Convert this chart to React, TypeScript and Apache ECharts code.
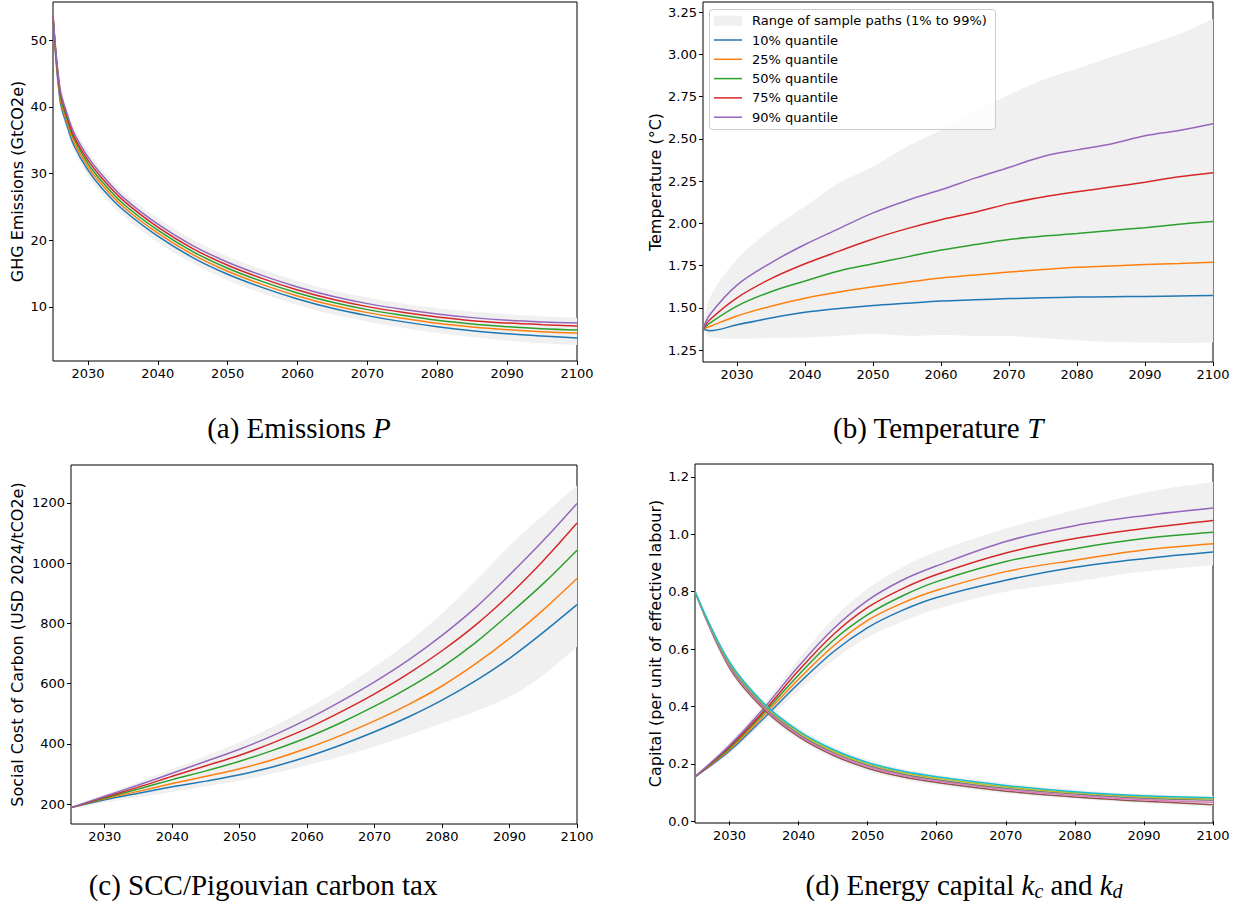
import React, { useEffect, useRef } from "react";
import * as echarts from "echarts";

// ---------- Panel (a): GHG emissions ----------
const yearsA = [2025, 2026, 2027, 2028, 2030, 2032, 2035, 2040, 2045, 2050, 2055, 2060, 2065, 2070, 2075, 2080, 2085, 2090, 2095, 2100];
const emisQ10 = [53.5, 41.0, 37.2, 34.2, 30.5, 27.8, 24.6, 20.6, 17.4, 14.9, 12.9, 11.2, 9.8, 8.7, 7.8, 7.05, 6.45, 6.0, 5.65, 5.35];
const emisQ25 = [53.6, 41.5, 37.7, 34.7, 31.0, 28.3, 25.05, 21.05, 17.85, 15.35, 13.35, 11.65, 10.25, 9.15, 8.3, 7.55, 7.0, 6.6, 6.3, 6.1];
const emisQ50 = [53.7, 42.0, 38.2, 35.2, 31.5, 28.8, 25.5, 21.5, 18.3, 15.8, 13.8, 12.1, 10.7, 9.6, 8.75, 8.0, 7.45, 7.05, 6.75, 6.55];
const emisQ75 = [53.7, 42.4, 38.6, 35.6, 32.0, 29.3, 26.0, 21.95, 18.75, 16.25, 14.25, 12.55, 11.15, 10.05, 9.2, 8.5, 7.95, 7.6, 7.35, 7.15];
const emisQ90 = [53.8, 42.8, 39.0, 36.1, 32.5, 29.8, 26.45, 22.4, 19.2, 16.7, 14.7, 13.0, 11.6, 10.5, 9.65, 8.95, 8.4, 8.0, 7.75, 7.6];
const emisLow = [53.2, 40.3, 36.4, 33.4, 29.7, 26.9, 23.7, 19.7, 16.5, 14.0, 12.0, 10.3, 8.9, 7.8, 6.9, 6.1, 5.5, 4.95, 4.55, 4.3];
const emisHigh = [54.2, 43.5, 39.7, 36.9, 33.4, 30.6, 27.3, 23.3, 20.1, 17.6, 15.6, 13.9, 12.5, 11.4, 10.5, 9.8, 9.3, 8.9, 8.6, 8.4];

// ---------- Panel (b): Temperature ----------
const yearsB = [2025, 2026, 2030, 2035, 2040, 2045, 2050, 2055, 2060, 2065, 2070, 2075, 2080, 2085, 2090, 2095, 2100];
const tempQ10 = [1.375, 1.365, 1.40, 1.44, 1.474, 1.497, 1.515, 1.528, 1.541, 1.548, 1.555, 1.56, 1.564, 1.566, 1.568, 1.571, 1.574];
const tempQ25 = [1.375, 1.39, 1.452, 1.51, 1.557, 1.594, 1.625, 1.652, 1.677, 1.695, 1.712, 1.727, 1.74, 1.748, 1.757, 1.763, 1.77];
const tempQ50 = [1.375, 1.41, 1.511, 1.596, 1.659, 1.718, 1.761, 1.802, 1.842, 1.875, 1.905, 1.925, 1.94, 1.958, 1.975, 1.995, 2.012];
const tempQ75 = [1.375, 1.43, 1.56, 1.673, 1.761, 1.836, 1.908, 1.969, 2.022, 2.066, 2.117, 2.156, 2.187, 2.215, 2.244, 2.276, 2.30];
const tempQ90 = [1.375, 1.46, 1.635, 1.767, 1.875, 1.969, 2.062, 2.136, 2.199, 2.268, 2.331, 2.396, 2.435, 2.47, 2.518, 2.55, 2.59];
const tempLow = [1.375, 1.33, 1.318, 1.322, 1.325, 1.335, 1.345, 1.335, 1.34, 1.335, 1.334, 1.32, 1.309, 1.298, 1.295, 1.292, 1.295];
const tempHigh = [1.375, 1.56, 1.787, 1.963, 2.10, 2.24, 2.337, 2.455, 2.553, 2.665, 2.76, 2.85, 2.915, 2.985, 3.05, 3.12, 3.21];

// ---------- Panel (c): SCC ----------
const yearsC = [2025, 2030, 2035, 2040, 2045, 2050, 2055, 2060, 2065, 2070, 2075, 2080, 2085, 2090, 2095, 2100];
const sccQ10 = [188, 214, 236, 257, 276, 297, 324, 357, 396, 440, 489, 545, 610, 684, 770, 862];
const sccQ25 = [188, 217, 242, 268, 292, 317, 348, 385, 428, 476, 530, 592, 666, 750, 845, 949];
const sccQ50 = [188, 220, 250, 281, 310, 342, 379, 421, 470, 525, 586, 655, 737, 832, 932, 1043];
const sccQ75 = [188, 223, 256, 292, 327, 362, 404, 451, 506, 566, 633, 709, 795, 895, 1008, 1133];
const sccQ90 = [188, 226, 263, 302, 342, 382, 428, 481, 541, 606, 678, 760, 853, 961, 1075, 1198];
const sccLow = [185, 205, 222, 240, 258, 278, 302, 329, 358, 391, 428, 468, 508, 556, 628, 722];
const sccHigh = [190, 232, 273, 316, 360, 406, 458, 517, 583, 656, 738, 833, 942, 1058, 1160, 1258];

// ---------- Panel (d): Energy capital ----------
const yearsD = [2025, 2030, 2035, 2040, 2045, 2050, 2055, 2060, 2070, 2080, 2090, 2100];
const kcQ10 = [0.155, 0.245, 0.36, 0.48, 0.59, 0.675, 0.735, 0.78, 0.84, 0.885, 0.915, 0.938];
const kcQ25 = [0.155, 0.25, 0.37, 0.495, 0.61, 0.70, 0.76, 0.805, 0.87, 0.91, 0.945, 0.967];
const kcQ50 = [0.155, 0.255, 0.378, 0.51, 0.63, 0.72, 0.785, 0.835, 0.905, 0.95, 0.985, 1.007];
const kcQ75 = [0.155, 0.26, 0.385, 0.525, 0.65, 0.745, 0.81, 0.86, 0.935, 0.985, 1.02, 1.048];
const kcQ90 = [0.155, 0.265, 0.395, 0.54, 0.67, 0.77, 0.84, 0.89, 0.975, 1.03, 1.065, 1.092];
const kcLow = [0.152, 0.235, 0.345, 0.455, 0.56, 0.64, 0.695, 0.74, 0.80, 0.835, 0.87, 0.892];
const kcHigh = [0.158, 0.275, 0.41, 0.565, 0.705, 0.81, 0.885, 0.94, 1.02, 1.085, 1.145, 1.183];
const kdQ10 = [0.80, 0.535, 0.39, 0.295, 0.23, 0.185, 0.155, 0.135, 0.105, 0.085, 0.07, 0.058];
const kdQ25 = [0.80, 0.54, 0.395, 0.30, 0.235, 0.19, 0.16, 0.14, 0.11, 0.09, 0.075, 0.066];
const kdQ50 = [0.80, 0.545, 0.40, 0.305, 0.24, 0.195, 0.165, 0.145, 0.115, 0.095, 0.08, 0.073];
const kdQ75 = [0.80, 0.55, 0.405, 0.31, 0.245, 0.20, 0.17, 0.15, 0.12, 0.099, 0.085, 0.078];
const kdQ90 = [0.80, 0.555, 0.41, 0.315, 0.25, 0.205, 0.175, 0.155, 0.125, 0.103, 0.089, 0.082];
const kdLow = [0.795, 0.525, 0.38, 0.285, 0.22, 0.175, 0.146, 0.126, 0.097, 0.078, 0.063, 0.052];
const kdHigh = [0.805, 0.565, 0.42, 0.325, 0.26, 0.215, 0.183, 0.163, 0.133, 0.11, 0.095, 0.088];

// ---------- Ticks & labels ----------
const xTicks = [2030, 2040, 2050, 2060, 2070, 2080, 2090, 2100];
const yTicksA = [10, 20, 30, 40, 50];
const yTicksB = [1.25, 1.5, 1.75, 2.0, 2.25, 2.5, 2.75, 3.0, 3.25];
const yTicksC = [200, 400, 600, 800, 1000, 1200];
const yTicksD = [0, 0.2, 0.4, 0.6, 0.8, 1.0, 1.2];
const legendLabels = ["Range of sample paths (1% to 99%)", "10% quantile", "25% quantile", "50% quantile", "75% quantile", "90% quantile"];

const C = ["#1f77b4", "#ff7f0e", "#2ca02c", "#d62728", "#9467bd"];
const CD = ["#8c564b", "#e377c2", "#7f7f7f", "#bcbd22", "#17becf"];
const BAND = "#f0f0f0";
const SANS = "DejaVu Sans";
const SERIF = "Liberation Serif";
const SMOOTH = 0.35;

const pairs = (xs: number[], ys: number[]) => xs.map((x, i) => [x, ys[i]]);

function line(g: number, xs: number[], ys: number[], color: string) {
  return {
    type: "line", xAxisIndex: g, yAxisIndex: g, data: pairs(xs, ys), showSymbol: false, symbol: "none",
    smooth: SMOOTH, silent: true, lineStyle: { width: 1.5, color }, z: 3,
  };
}
function band(g: number, xs: number[], lo: number[], hi: number[]) {
  return {
    type: "custom", xAxisIndex: g, yAxisIndex: g, silent: true, z: 2, clip: true,
    data: [[xs[0], lo[0]]], encode: { x: 0, y: 1 },
    renderItem: (params: any, api: any) => {
      const up = xs.map((x, i) => api.coord([x, hi[i]]));
      const dn = xs.map((x, i) => api.coord([x, lo[i]])).reverse();
      // corners repeated so that the smoothing keeps them sharp
      const pts = [up[0], ...up, up[up.length - 1], dn[0], ...dn, dn[dn.length - 1]];
      return { type: "polygon", shape: { points: pts, smooth: SMOOTH }, style: { fill: BAND, stroke: null } };
    },
  };
}
function xAxis(g: number) {
  return {
    type: "value", gridIndex: g, min: 2025, max: 2100,
    axisLine: { show: false }, splitLine: { show: false },
    axisTick: { show: true, length: 4, customValues: xTicks, lineStyle: { color: "#000", width: 1 } },
    axisLabel: { customValues: xTicks, fontSize: 13, color: "#000", margin: 6, fontFamily: SANS,
      formatter: (v: number) => String(v) },
  };
}
function yAxis(g: number, min: number, max: number, ticks: number[], name: string, gap: number, dec: number) {
  return {
    type: "value", gridIndex: g, min, max, name, nameLocation: "middle", nameGap: gap, nameRotate: 90,
    nameTextStyle: { fontSize: 16, color: "#000", fontFamily: SANS },
    axisLine: { show: false }, splitLine: { show: false },
    axisTick: { show: true, length: 4, customValues: ticks, lineStyle: { color: "#000", width: 1 } },
    axisLabel: { customValues: ticks, fontSize: 13, color: "#000", margin: 6, fontFamily: SANS,
      formatter: (v: number) => v.toFixed(dec) },
  };
}

export default function App() {
  const ref = useRef<HTMLDivElement>(null);
  useEffect(() => {
    document.body.style.margin = "0";
    const chart = echarts.init(ref.current!, null, { renderer: "svg" });
    const grid = (left: number, top: number, width: number, height: number) => ({
      left, top, width, height, show: true, borderColor: "#000", borderWidth: 1, backgroundColor: "transparent",
    });
    const series: any[] = [
      band(0, yearsA, emisLow, emisHigh),
      line(0, yearsA, emisQ10, C[0]), line(0, yearsA, emisQ25, C[1]), line(0, yearsA, emisQ50, C[2]),
      line(0, yearsA, emisQ75, C[3]), line(0, yearsA, emisQ90, C[4]),
      band(1, yearsB, tempLow, tempHigh),
      line(1, yearsB, tempQ10, C[0]), line(1, yearsB, tempQ25, C[1]), line(1, yearsB, tempQ50, C[2]),
      line(1, yearsB, tempQ75, C[3]), line(1, yearsB, tempQ90, C[4]),
      band(2, yearsC, sccLow, sccHigh),
      line(2, yearsC, sccQ10, C[0]), line(2, yearsC, sccQ25, C[1]), line(2, yearsC, sccQ50, C[2]),
      line(2, yearsC, sccQ75, C[3]), line(2, yearsC, sccQ90, C[4]),
      band(3, yearsD, kcLow, kcHigh),
      band(3, yearsD, kdLow, kdHigh),
      line(3, yearsD, kcQ10, C[0]), line(3, yearsD, kcQ25, C[1]), line(3, yearsD, kcQ50, C[2]),
      line(3, yearsD, kcQ75, C[3]), line(3, yearsD, kcQ90, C[4]),
      line(3, yearsD, kdQ10, CD[0]), line(3, yearsD, kdQ25, CD[1]), line(3, yearsD, kdQ50, CD[2]),
      line(3, yearsD, kdQ75, CD[3]), line(3, yearsD, kdQ90, CD[4]),
    ];

    // legend of panel (b)
    const lx = 709, ly = 9, rowH = 19.3;
    const legendEls: any[] = [
      { type: "rect", shape: { x: lx + 0.5, y: ly + 0.5, width: 286, height: 120, r: 3 },
        style: { fill: "rgba(255,255,255,0.8)", stroke: "#cccccc", lineWidth: 1 }, z: 100 },
    ];
    legendLabels.forEach((t, i) => {
      const cy = ly + 11.7 + i * rowH;
      if (i === 0) {
        legendEls.push({ type: "rect", shape: { x: 714, y: cy - 5, width: 28, height: 10 }, style: { fill: BAND }, z: 101 });
      } else {
        legendEls.push({ type: "line", shape: { x1: 714, y1: cy, x2: 742, y2: cy }, style: { stroke: C[i - 1], lineWidth: 1.5 }, z: 101 });
      }
      legendEls.push({ type: "text", x: 752, y: cy, style: { text: t, fontSize: 13, fontFamily: SANS, fill: "#000",
        verticalAlign: "middle" }, z: 101 });
    });

    const cap = (x: number, y: number, text: string) => ({
      type: "text", x, y, style: {
        text, align: "center", verticalAlign: "middle", fontSize: 29, fontFamily: SERIF, fill: "#000",
        rich: {
          i: { fontSize: 29, fontStyle: "italic", fontFamily: SERIF, fill: "#000" },
          s: { fontSize: 20, fontStyle: "italic", fontFamily: SERIF, fill: "#000", padding: [12, 0, 0, 0] },
        },
      },
    });

    chart.setOption({
      animation: false,
      backgroundColor: "#fff",
      grid: [grid(53, 2, 524, 359), grid(703, 2, 510, 360), grid(71, 465, 506, 359), grid(695, 464, 518, 359)],
      xAxis: [xAxis(0), xAxis(1), xAxis(2), xAxis(3)],
      yAxis: [
        yAxis(0, 1.9, 55.7, yTicksA, "GHG Emissions (GtCO2e)", 28, 0),
        yAxis(1, 1.18, 3.31, yTicksB, "Temperature (°C)", 40, 2),
        yAxis(2, 133.6, 1326, yTicksC, "Social Cost of Carbon (USD 2024/tCO2e)", 46, 0),
        yAxis(3, -0.006, 1.245, yTicksD, "Capital (per unit of effective labour)", 32, 1),
      ],
      series,
      graphic: [
        ...legendEls,
        cap(299, 428, "(a) Emissions {i|P}"),
        cap(938, 428, "(b) Temperature {i|T}"),
        cap(263, 885, "(c) SCC/Pigouvian carbon tax"),
        cap(964, 885, "(d) Energy capital {i|k}{s|c} and {i|k}{s|d}"),
      ],
    });
    return () => chart.dispose();
  }, []);
  return <div ref={ref} style={{ position: "fixed", left: 0, top: 0, width: 1241, height: 909 }} />;
}
